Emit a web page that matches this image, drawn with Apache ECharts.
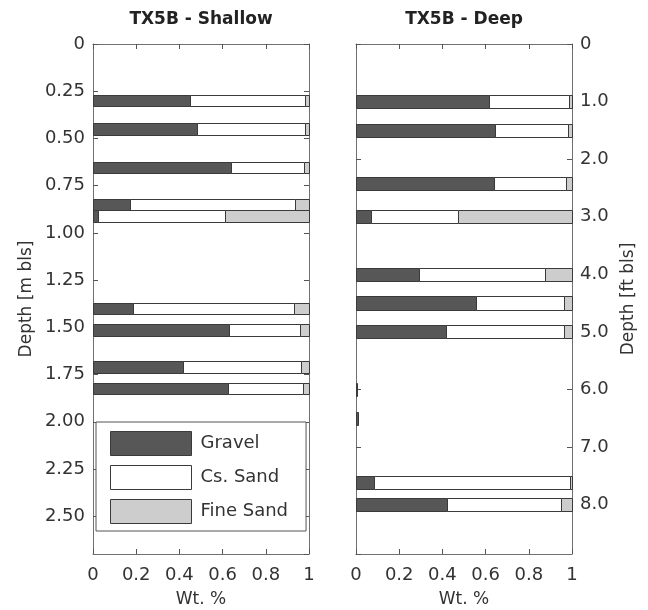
<!DOCTYPE html>
<html>
<head>
<meta charset="utf-8">
<script src="https://cdn.jsdelivr.net/npm/echarts@6/dist/echarts.min.js"></script>
<style>
  html, body { margin: 0; padding: 0; background: #ffffff; }
  #chart { width: 648px; height: 610px; }
</style>
</head>
<body>
<div id="chart"></div>
<script>
// Shallow core: sample depths in metres and grain-size fractions
const shallowDepthM   = [0.30, 0.45, 0.655, 0.85, 0.91, 1.40, 1.515, 1.71, 1.825];
const shallowGravel   = [0.45, 0.48, 0.64, 0.17, 0.025, 0.185, 0.63, 0.415, 0.625];
const shallowCsSand   = [0.53, 0.50, 0.335, 0.765, 0.585, 0.745, 0.33, 0.55, 0.345];
const shallowFineSand = [0.02, 0.02, 0.025, 0.065, 0.39, 0.07, 0.04, 0.035, 0.03];

// Deep core: sample depths in feet and grain-size fractions
const deepDepthFt  = [1.0, 1.5, 2.42, 3.0, 4.0, 4.5, 5.0, 6.0, 6.5, 7.62, 8.0];
const deepGravel   = [0.615, 0.645, 0.64, 0.07, 0.29, 0.555, 0.415, 0.004, 0.01, 0.085, 0.42];
const deepCsSand   = [0.37, 0.335, 0.333, 0.40, 0.585, 0.41, 0.55, 0, 0, 0.905, 0.53];
const deepFineSand = [0.015, 0.02, 0.027, 0.53, 0.125, 0.035, 0.035, 0, 0, 0.01, 0.05];

const classNames = ['Gravel', 'Cs. Sand', 'Fine Sand'];
const panelTitles = ['TX5B - Shallow', 'TX5B - Deep'];

const depthMaxM = 2.7;
const FT_PER_M = 1 / 0.3048;
const depthMaxFt = depthMaxM * FT_PER_M;

const FONT = 'DejaVu Sans';
const classColors = ['#575757', '#ffffff', '#cdcdcd'];
const edgeColor = '#3a3a3a';
const axisColor = '#707070';
const textColor = '#333333';

// Turn fractions into stacked [start, depth, end] segments, one list per class
function stackSegments(depths, fractions) {
  const out = fractions.map(() => []);
  depths.forEach((d, i) => {
    let start = 0;
    fractions.forEach((arr, k) => {
      const end = start + arr[i];
      out[k].push([start, d, end]);
      start = end;
    });
  });
  return out;
}

const shallowSegs = stackSegments(shallowDepthM, [shallowGravel, shallowCsSand, shallowFineSand]);
const deepSegs = stackSegments(deepDepthFt, [deepGravel, deepCsSand, deepFineSand]);

// Horizontal bar piece centred on its depth, spanning [start, end] in Wt.
function barRenderer(halfThickness) {
  return function (params, api) {
    const x0 = api.value(0), depth = api.value(1), x1 = api.value(2);
    if (!(x1 - x0 > 0)) return null;
    const a = api.coord([x0, depth - halfThickness]);
    const b = api.coord([x1, depth + halfThickness]);
    const left = Math.round(Math.min(a[0], b[0])) + 0.5;
    const right = Math.round(Math.max(a[0], b[0])) + 0.5;
    const top = Math.round(Math.min(a[1], b[1])) + 0.5;
    const bottom = Math.round(Math.max(a[1], b[1])) + 0.5;
    return {
      type: 'rect',
      shape: { x: left, y: top, width: Math.max(right - left, 0.6), height: bottom - top },
      style: { fill: api.visual('color'), stroke: edgeColor, lineWidth: 1 }
    };
  };
}

function xAxisCfg(gridIndex, position, main) {
  return {
    type: 'value', gridIndex, position,
    min: 0, max: 1, interval: 0.2,
    axisLine: { show: true, onZero: false, lineStyle: { color: axisColor, width: 1 } },
    axisTick: { show: true, inside: true, length: 5, lineStyle: { color: '#555', width: 1 } },
    splitLine: { show: false },
    axisLabel: {
      show: main, margin: 12, fontFamily: FONT, fontSize: 18, color: textColor,
      formatter: v => (v === 0 || v === 1) ? String(v) : v.toFixed(1)
    },
    name: main ? 'Wt. %' : '',
    nameLocation: 'middle', nameGap: 37,
    nameTextStyle: { fontFamily: FONT, fontSize: 17, color: textColor }
  };
}

function yAxisCfg(gridIndex, position, max, interval, digits, main, name, nameGap) {
  return {
    type: 'value', gridIndex, position, inverse: true,
    min: 0, max, interval,
    axisLine: { show: true, onZero: false, lineStyle: { color: axisColor, width: 1 } },
    axisTick: { show: true, inside: true, length: 5, lineStyle: { color: '#555', width: 1 } },
    splitLine: { show: false },
    axisLabel: {
      show: main, margin: 8, fontFamily: FONT, fontSize: 18, color: textColor,
      showMaxLabel: false,
      formatter: v => (v === 0 ? '0' : (Math.abs(v - max) < 1e-6 ? '' : v.toFixed(digits)))
    },
    name: main ? name : '',
    nameLocation: 'middle', nameGap, nameRotate: 90,
    nameTextStyle: { fontFamily: FONT, fontSize: 17, color: textColor }
  };
}

const series = [];
classNames.forEach((name, k) => {
  series.push({
    type: 'custom', name, xAxisIndex: 0, yAxisIndex: 0,
    itemStyle: { color: classColors[k] },
    renderItem: barRenderer(0.0305),
    data: shallowSegs[k]
  });
});
classNames.forEach((name, k) => {
  series.push({
    type: 'custom', name, xAxisIndex: 2, yAxisIndex: 2,
    itemStyle: { color: classColors[k] },
    renderItem: barRenderer(0.115),
    data: deepSegs[k]
  });
});

const chart = echarts.init(document.getElementById('chart'), null, { renderer: 'canvas' });
chart.setOption({
  backgroundColor: '#ffffff',
  animation: false,
  title: [
    { text: panelTitles[0], left: 201, top: 11, padding: 0, textAlign: 'center',
      textStyle: { fontFamily: FONT, fontSize: 17, fontWeight: 'bold', color: '#222' } },
    { text: panelTitles[1], left: 464, top: 11, padding: 0, textAlign: 'center',
      textStyle: { fontFamily: FONT, fontSize: 17, fontWeight: 'bold', color: '#222' } }
  ],
  grid: [
    { left: 93, top: 44, width: 216, height: 510, containLabel: false, outerBoundsMode: 'none' },
    { left: 356, top: 44, width: 216, height: 510, containLabel: false, outerBoundsMode: 'none' }
  ],
  xAxis: [
    xAxisCfg(0, 'bottom', true),
    xAxisCfg(0, 'top', false),
    xAxisCfg(1, 'bottom', true),
    xAxisCfg(1, 'top', false)
  ],
  yAxis: [
    yAxisCfg(0, 'left', depthMaxM, 0.25, 2, true, 'Depth [m bls]', 58),
    yAxisCfg(0, 'right', depthMaxM, 0.25, 2, false, '', 0),
    yAxisCfg(1, 'right', depthMaxFt, 1, 1, true, 'Depth [ft bls]', 48),
    yAxisCfg(1, 'left', depthMaxFt, 1, 1, false, '', 0)
  ],
  legend: {
    orient: 'vertical', left: 96, top: 422, z: 10,
    itemWidth: 81, itemHeight: 24, itemGap: 9,
    padding: [9, 18, 7, 14],
    backgroundColor: '#ffffff', borderColor: '#555555', borderWidth: 1,
    selectedMode: false,
    textStyle: { fontFamily: FONT, fontSize: 18, color: textColor, padding: [0, 0, 0, 4] },
    data: classNames.map((n, k) => ({
      name: n, icon: 'rect',
      itemStyle: { color: classColors[k], borderColor: edgeColor, borderWidth: 1 }
    }))
  },
  series
});
</script>
</body>
</html>
